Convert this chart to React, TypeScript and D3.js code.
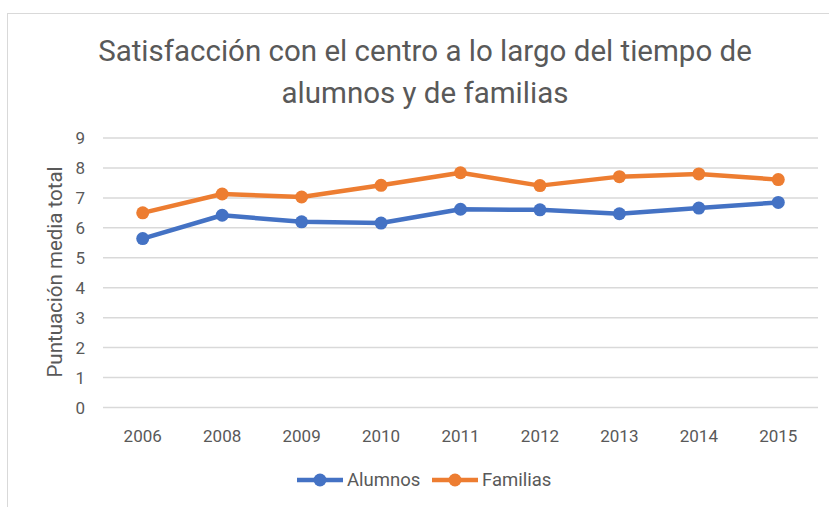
// react
import { useEffect, useRef } from "react";

// d3
import * as d3 from "d3";

const YEARS = ["2006", "2008", "2009", "2010", "2011", "2012", "2013", "2014", "2015"];
const ALUMNOS = [5.64, 6.42, 6.2, 6.16, 6.62, 6.6, 6.47, 6.66, 6.85];
const FAMILIAS = [6.5, 7.13, 7.03, 7.42, 7.84, 7.41, 7.71, 7.8, 7.61];
const Y_TICKS = [0, 1, 2, 3, 4, 5, 6, 7, 8, 9];
const SERIES_NAMES = ["Alumnos", "Familias"];
const COLORS = ["#4472C4", "#ED7D31"];
const TITLE = ["Satisfacción con el centro a lo largo del tiempo de", "alumnos y de familias"];
const Y_TITLE = "Puntuación media total";

const FONT = "Roboto, 'Open Sans', sans-serif";
const TEXT = "#595959";

export default function App() {
  const ref = useRef<SVGSVGElement>(null);

  useEffect(() => {
    if (!ref.current) return;
    const svg = d3.select(ref.current);
    svg.selectAll("*").remove();

    const W = 829;
    const H = 507;
    svg.attr("width", W).attr("height", H);

    // chart frame
    svg
      .append("rect")
      .attr("x", 7.5)
      .attr("y", 13.5)
      .attr("width", W)
      .attr("height", H)
      .attr("fill", "#fff")
      .attr("stroke", "#d9d9d9")
      .attr("stroke-width", 1);

    const m = { top: 138, left: 103, right: 11 };
    const w = W - m.left - m.right;
    const h = 407.5 - m.top;

    const x = d3.scaleBand().domain(YEARS).range([0, w]);
    const y = d3.scaleLinear().domain([0, 9]).range([h, 0]);

    const g = svg.append("g").attr("transform", `translate(${m.left},${m.top})`);

    // Title
    TITLE.forEach((t, i) => {
      svg
        .append("text")
        .attr("x", 425)
        .attr("y", 61 + i * 42)
        .attr("text-anchor", "middle")
        .attr("font-family", FONT)
        .attr("font-size", 29.5)
        .attr("fill", TEXT)
        .text(t);
    });

    // Gridlines
    g.append("g")
      .selectAll("line")
      .data(Y_TICKS)
      .join("line")
      .attr("x1", 0)
      .attr("x2", w)
      .attr("y1", (d) => y(d))
      .attr("y2", (d) => y(d))
      .attr("stroke", "#d9d9d9")
      .attr("stroke-width", 1.5);

    // Y axis labels
    g.append("g")
      .selectAll("text")
      .data(Y_TICKS)
      .join("text")
      .attr("x", -18)
      .attr("y", (d) => y(d))
      .attr("text-anchor", "end")
      .attr("dominant-baseline", "central")
      .attr("font-family", FONT)
      .attr("font-size", 17)
      .attr("fill", TEXT)
      .text((d) => d);

    // X axis labels
    g.append("g")
      .selectAll("text")
      .data(YEARS)
      .join("text")
      .attr("x", (d) => (x(d) ?? 0) + x.bandwidth() / 2)
      .attr("y", h + 28)
      .attr("text-anchor", "middle")
      .attr("dominant-baseline", "central")
      .attr("font-family", FONT)
      .attr("font-size", 17)
      .attr("fill", TEXT)
      .text((d) => d);

    // Y title
    svg
      .append("text")
      .attr("transform", `translate(62,272) rotate(-90)`)
      .attr("text-anchor", "middle")
      .attr("font-family", FONT)
      .attr("font-size", 20.5)
      .attr("fill", TEXT)
      .text(Y_TITLE);

    // Lines
    const line = d3
      .line<number>()
      .x((_, i) => (x(YEARS[i]) ?? 0) + x.bandwidth() / 2)
      .y((d) => y(d));

    [ALUMNOS, FAMILIAS].forEach((vals, s) => {
      g.append("path")
        .datum(vals)
        .attr("fill", "none")
        .attr("stroke", COLORS[s])
        .attr("stroke-width", 4.5)
        .attr("stroke-linejoin", "round")
        .attr("d", line);
      g.append("g")
        .selectAll("circle")
        .data(vals)
        .join("circle")
        .attr("cx", (_, i) => (x(YEARS[i]) ?? 0) + x.bandwidth() / 2)
        .attr("cy", (d) => y(d))
        .attr("r", 6.5)
        .attr("fill", COLORS[s]);
    });

    // Legend
    const legX = [297, 432];
    SERIES_NAMES.forEach((name, i) => {
      const lg = svg.append("g").attr("transform", `translate(${legX[i]},480)`);
      lg.append("line")
        .attr("x1", 0)
        .attr("x2", 46)
        .attr("stroke", COLORS[i])
        .attr("stroke-width", 4.5);
      lg.append("circle").attr("cx", 23).attr("r", 6.5).attr("fill", COLORS[i]);
      lg.append("text")
        .attr("x", 50)
        .attr("dominant-baseline", "central")
        .attr("font-family", FONT)
        .attr("font-size", 18.5)
        .attr("fill", TEXT)
        .text(name);
    });
  }, []);

  return <svg ref={ref} style={{ position: "absolute", left: 0, top: 0, display: "block" }} />;
}
